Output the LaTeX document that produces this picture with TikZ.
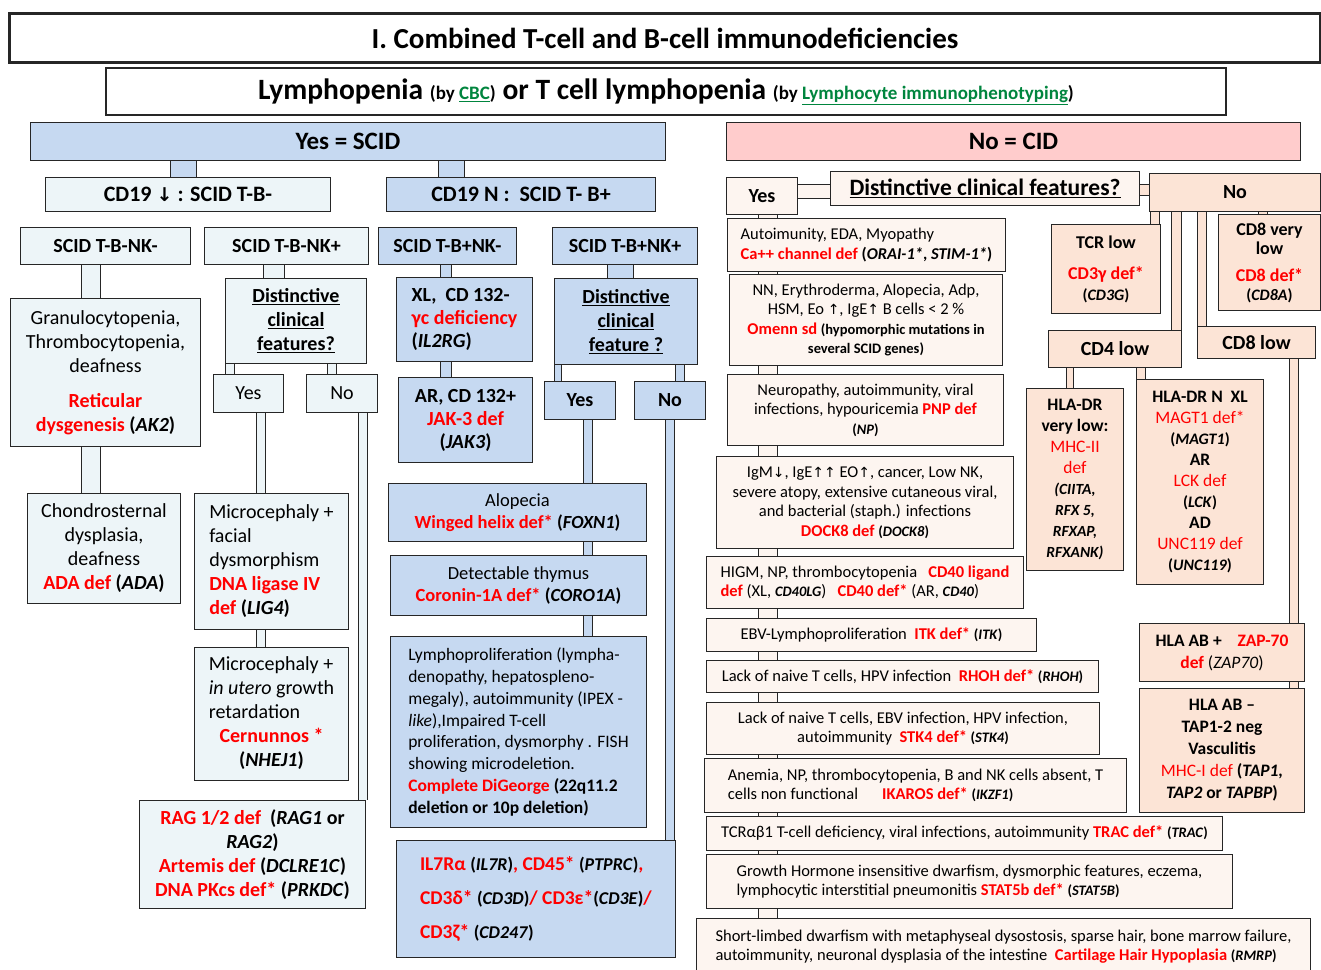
\documentclass[tikz,border=0pt]{standalone}
\usepackage{fontspec}
\setmainfont{Carlito}
\newfontfamily\dv{DejaVu Sans}
\definecolor{mblue}{HTML}{C6D9F1}
\definecolor{lblue}{HTML}{EDF5F8}
\definecolor{pinkc}{HTML}{FFCCCC}
\definecolor{lpeach}{HTML}{FDF5F0}
\definecolor{peach}{HTML}{FCE4D6}
\definecolor{lgreen}{HTML}{00853E}
\definecolor{bord}{HTML}{262626}
\newcommand\R[1]{\textcolor{red}{\textbf{#1}}}
\newcommand\Rm[1]{\textcolor{red}{\mdseries #1}}
\newcommand\fz[2]{\fontsize{#1}{#2}\selectfont}
\newcommand\gs[1]{{\fz{14.5}{16}\bfseries(\textit{#1})}}
\newcommand\gi[1]{{\fz{15.5}{21}\itshape #1}}
\newcommand\lk[1]{\textcolor{lgreen}{\underline{#1}}}
\newcommand\mc[1]{\multicolumn{1}{@{}c@{}}{#1}}
\newcommand\bx[7]{\node[box,#6,anchor=north west,minimum width={#4-#2},minimum height={#5-#3}] (#1) at (#2,#3) {#7};}
\pgfdeclarelayer{bg}
\pgfsetlayers{bg,main}
\begin{document}
\begin{tikzpicture}[x=1pt,y=-1pt,
 box/.style={draw=bord,line width=1pt,inner sep=1pt,align=center,font=\fz{20}{24}},
 pp/.style={draw=bord,line width=1pt,double=#1}]
\useasboundingbox (0,0) rectangle (1321,969);
% headers
\bx{title}{8}{12}{1319}{61}{line width=3pt,font=\fz{29}{32}\bfseries}{I. Combined T-cell and B-cell immunodeficiencies}
\bx{lp}{105}{67}{1225}{114}{line width=2pt,font=\fz{29.5}{32}\bfseries}{Lymphopenia {\fz{19}{20}(by \lk{CBC})} or T cell lymphopenia {\fz{19}{20}(by \lk{Lymphocyte immunophenotyping})}}
\bx{yscid}{30}{122}{665}{160}{fill=mblue,font=\fz{25}{28}\bfseries}{Yes = SCID}
\bx{ncid}{726}{122}{1300}{160}{fill=pinkc,font=\fz{25}{28}\bfseries}{No = CID}
\bx{cdd}{45}{177}{330}{211}{fill=lblue,font=\fz{22}{26}\bfseries}{CD19 {\dv\fz{19}{21}↓} : SCID T-B-}
\bx{cdn}{386}{177}{655}{211}{fill=mblue,font=\fz{22}{26}\bfseries}{CD19 N :\ \ SCID T- B+}
% left subtree
\bx{nkm}{20}{227}{190}{264}{fill=lblue,font=\fz{20}{24}\bfseries}{SCID T-B-NK-}
\bx{nkp}{204}{227}{368}{264}{fill=lblue,font=\fz{20}{24}\bfseries}{SCID T-B-NK+}
\bx{gran}{10}{298}{200}{446}{fill=lblue}{Granulocytopenia,\\Thrombocytopenia,\\deafness\\[11pt]\R{Reticular}\\\R{dysgenesis} \textbf{(\textit{AK2})}}
\bx{chon}{27}{493}{180}{603}{fill=lblue}{Chondrosternal\\dysplasia,\\deafness\\\R{ADA def} \textbf{(\textit{ADA})}}
\bx{dcfa}{225}{278}{366}{363}{fill=lblue,font=\fz{20}{24}\bfseries}{\underline{Distinctive}\\\underline{clinical}\\\underline{features?}}
\bx{yesa}{213}{374}{283}{412}{fill=lblue}{Yes}
\bx{noa}{306}{374}{377}{412}{fill=lblue}{No}
\bx{mica}{194}{493}{348}{629}{fill=lblue,align=left}{Microcephaly +\\facial\\dysmorphism\\\R{DNA ligase IV}\\\R{def} \textbf{(\textit{LIG4})}}
\bx{micb}{194}{647}{348}{780}{fill=lblue}{\begin{tabular}{@{}l@{}}Microcephaly +\\\textit{in utero} growth\\retardation\\\mc{\R{Cernunnos *}}\\\mc{\textbf{(\textit{NHEJ1})}}\end{tabular}}
\bx{rag}{139}{800}{365}{908}{fill=lblue}{\R{RAG 1/2 def}\ \ \textbf{(\textit{RAG1} or}\\\textbf{\textit{RAG2})}\\\R{Artemis def} \textbf{(\textit{DCLRE1C})}\\\R{DNA PKcs def*} \textbf{(\textit{PRKDC})}}
% middle subtree
\bx{nkm2}{378}{227}{516}{264}{fill=mblue,font=\fz{20}{24}\bfseries}{SCID T-B+NK-}
\bx{nkp2}{552}{227}{697}{264}{fill=mblue,font=\fz{20}{24}\bfseries}{SCID T-B+NK+}
\bx{xl}{396}{277}{532}{361}{fill=mblue,font=\fz{20}{23}\bfseries,align=left}{XL,\ \ CD 132-\\\R{γc deficiency}\\(\textit{IL2RG})}
\bx{ar}{398}{377}{532}{462}{fill=mblue,font=\fz{20}{23}\bfseries}{AR, CD 132+\\\R{JAK-3 def}\\(\textit{JAK3})}
\bx{dcfb}{554}{278}{697}{364}{fill=mblue,font=\fz{20}{24}\bfseries}{\underline{Distinctive}\\\underline{clinical}\\\underline{feature ?}}
\bx{yesb}{544}{381}{615}{419}{fill=mblue,font=\fz{20}{24}\bfseries}{Yes}
\bx{nob}{634}{381}{705}{419}{fill=mblue,font=\fz{20}{24}\bfseries}{No}
\bx{alo}{388}{483}{646}{541}{fill=mblue,font=\fz{18.5}{22}}{Alopecia\\\R{Winged helix def*} \textbf{(\textit{FOXN1})}}
\bx{det}{390}{555}{646}{615}{fill=mblue,font=\fz{18.5}{22}}{Detectable thymus\\\R{Coronin-1A def*} \textbf{(\textit{CORO1A})}}
\bx{lymp}{390}{636}{646}{827}{fill=mblue,font=\fz{17.5}{21.8},align=left}{Lymphoproliferation (lympha-\\denopathy, hepatospleno-\\megaly), autoimmunity (IPEX -\\\textit{like}),Impaired T-cell\\proliferation, dysmorphy . FISH\\showing microdeletion.\\\R{Complete DiGeorge} \textbf{(22q11.2}\\\textbf{deletion or 10p deletion)}}
\bx{il7}{396}{840}{675}{957}{fill=mblue,font=\fz{19.5}{34}\bfseries,align=left}{\R{IL7Rα} {\fz{18}{20}(\textit{IL7R})}\R{, CD45*} {\fz{18}{20}(\textit{PTPRC})}\R{,}\\\R{CD3δ*} {\fz{18}{20}(\textit{CD3D})}\R{/ CD3ε*}{\fz{18}{20}(\textit{CD3E})}\R{/}\\\R{CD3ζ*} {\fz{18}{20}(\textit{CD247})}}
% right: yes column
\bx{ya}{726}{177}{797}{214}{fill=lpeach,font=\fz{20}{24}\bfseries}{Yes}
\bx{dcfc}{830}{171}{1139}{205}{fill=lpeach,font=\fz{23.5}{26}\bfseries}{\underline{Distinctive clinical features?}}
\bx{nc}{1149}{173}{1320}{211}{fill=peach,font=\fz{20}{24}\bfseries}{No}
\bx{c1}{727}{218}{1005}{271}{fill=lpeach,font=\fz{16.5}{19.5},align=left}{Autoimunity, EDA, Myopathy\\\R{Ca++ channel def} \textbf{(\textit{ORAI-1*}, \textit{STIM-1*})}}
\bx{c2}{729}{274}{1002}{365}{fill=lpeach,font=\fz{16.5}{19.5}}{NN, Erythroderma, Alopecia, Adp,\\HSM, Eo {\dv\fz{14}{16}↑}, IgE{\dv\fz{14}{16}↑} B cells < 2 \%\\\R{Omenn sd} {\fz{14.5}{17}\bfseries(hypomorphic mutations in}\\{\fz{14.5}{17}\bfseries several SCID genes)}}
\bx{c3}{727}{374}{1003}{445}{fill=lpeach,font=\fz{16.5}{19.5}}{Neuropathy, autoimmunity, viral\\infections, hypouricemia \R{PNP def}\\\gs{NP}}
\bx{c4}{716}{456}{1013}{548}{fill=lpeach,font=\fz{16.5}{19.5}}{IgM{\dv\fz{14}{16}↓}, IgE{\dv\fz{14}{16}↑↑} EO{\dv\fz{14}{16}↑}, cancer, Low NK,\\severe atopy, extensive cutaneous viral,\\and bacterial (staph.) infections\\\R{DOCK8 def} \gs{DOCK8}}
\bx{c5}{706}{556}{1023}{608}{fill=lpeach,font=\fz{16.5}{19.5},align=left}{HIGM, NP, thrombocytopenia\ \ \ \R{CD40 ligand}\\\R{def} (XL, {\fz{14.5}{16}\bfseries\itshape CD40LG})\ \ \ \R{CD40 def*} (AR, {\fz{14.5}{16}\bfseries\itshape CD40})}
\bx{c6}{706}{618}{1036}{651}{fill=lpeach,font=\fz{16.5}{19.5}}{EBV-Lymphoproliferation\ \ \R{ITK def*} \gs{ITK}}
\bx{c7}{706}{660}{1098}{692}{fill=lpeach,font=\fz{16.5}{19.5}}{Lack of naive T cells, HPV infection\ \ \R{RHOH def*} \gs{RHOH}}
\bx{c8}{706}{702}{1099}{754}{fill=lpeach,font=\fz{16.5}{19.5}}{Lack of naive T cells, EBV infection, HPV infection,\\autoimmunity\ \ \R{STK4 def*} \gs{STK4}}
\bx{c9}{704}{758}{1126}{812}{fill=lpeach,font=\fz{16.5}{19.5},align=left}{Anemia, NP, thrombocytopenia, B and NK cells absent, T\\cells non functional\hspace{24pt}\R{IKAROS def*} \gs{IKZF1}}
\bx{c10}{706}{816}{1222}{850}{fill=lpeach,font=\fz{16.5}{19.5}}{TCRαβ1 T-cell deficiency, viral infections, autoimmunity \R{TRAC def*} \gs{TRAC}}
\bx{c11}{706}{854}{1232}{908}{fill=lpeach,font=\fz{16.5}{19.5},align=left}{Growth Hormone insensitive dwarfism, dysmorphic features, eczema,\\lymphocytic interstitial pneumonitis \R{STAT5b def*} \gs{STAT5B}}
\bx{c12}{696}{918}{1310}{974}{fill=lpeach,font=\fz{16.5}{19.5},align=left}{Short-limbed dwarfism with metaphyseal dysostosis, sparse hair, bone marrow failure,\\autoimmunity, neuronal dysplasia of the intestine\ \ \R{Cartilage Hair Hypoplasia} \gs{RMRP}}
% right: no column
\bx{tcr}{1051}{224}{1160}{313}{fill=peach,font=\fz{18}{21}\bfseries}{TCR low\\[10pt]\R{CD3γ def*}\\{\fz{16}{19}(\textit{CD3G})}}
\bx{c8vl}{1218}{214}{1320}{310}{fill=peach,font=\fz{18}{19}\bfseries}{CD8 very\\low\\[8pt]\R{CD8 def*}\\{\fz{16}{19}(\textit{CD8A})}}
\bx{cd4}{1048}{330}{1181}{367}{fill=peach,font=\fz{20}{24}\bfseries}{CD4 low}
\bx{cd8l}{1197}{326}{1315}{358}{fill=peach,font=\fz{20}{24}\bfseries}{CD8 low}
\bx{hladr}{1026}{388}{1123}{570}{fill=peach,font=\fz{17.5}{21}\bfseries}{HLA-DR\\very low:\\\Rm{MHC-II}\\\Rm{def}\\\gi{(CIITA,}\\\gi{RFX 5,}\\\gi{RFXAP,}\\\gi{RFXANK)}}
\bx{hlan}{1136}{379}{1263}{584}{fill=peach,font=\fz{17.5}{21}\bfseries}{HLA-DR N\ \ XL\\\Rm{MAGT1 def*}\\{\fz{16}{21}(\textit{MAGT1})}\\AR\\\Rm{LCK def}\\{\fz{16}{21}(\textit{LCK})}\\AD\\\Rm{UNC119 def}\\{\fz{16}{21}(\textit{UNC119})}}
\bx{zap}{1139}{623}{1304}{681}{fill=peach,font=\fz{17.5}{22}\bfseries}{HLA AB +\ \ \ \ \R{ZAP-70}\\\R{def} {\mdseries(\textit{ZAP70})}}
\bx{tap}{1139}{688}{1304}{812}{fill=peach,font=\fz{17.5}{22}\bfseries}{HLA AB –\\TAP1-2 neg\\Vasculitis\\\Rm{MHC-I def} (\textit{TAP1,}\\\textit{TAP2} or \textit{TAPBP})}
% connectors
\begin{pgfonlayer}{bg}
\fill[white] (0,0) rectangle (1321,969);
\draw[pp=mblue,double distance=25pt] (yscid.south -| 183.5,0) -- (cdd.north -| 183.5,0);
\draw[pp=mblue,double distance=25pt] (yscid.south -| 451.5,0) -- (cdn.north -| 451.5,0);
\draw[pp=lblue,double distance=18pt] (nkm.south -| 91,0) -- (gran.north -| 91,0);
\draw[pp=lblue,double distance=18pt] (gran.south -| 91,0) -- (chon.north -| 91,0);
\draw[pp=lblue,double distance=20pt] (nkp.south -| 274,0) -- (dcfa.north -| 274,0);
\draw[pp=lblue,double distance=8pt] (dcfa.south -| 230,0) -- (yesa.north -| 230,0);
\draw[pp=lblue,double distance=8pt] (dcfa.south -| 332,0) -- (noa.north -| 332,0);
\draw[pp=lblue,double distance=8pt] (yesa.south -| 261,0) -- (mica.north -| 261,0);
\draw[pp=lblue,double distance=8pt] (mica.south -| 261,0) -- (micb.north -| 261,0);
\draw[pp=lblue,double distance=8pt] (noa.south -| 363,0) -- (rag.north -| 363,0);
\draw[pp=mblue,double distance=10pt] (nkm2.south -| 446,0) -- (xl.north -| 446,0);
\draw[pp=mblue,double distance=10pt] (xl.south -| 446,0) -- (ar.north -| 446,0);
\draw[pp=mblue,double distance=25pt] (nkp2.south -| 620,0) -- (dcfb.north -| 620,0);
\draw[pp=mblue,double distance=6pt] (dcfb.south -| 558,0) -- (yesb.north -| 558,0);
\draw[pp=mblue,double distance=8pt] (dcfb.south -| 680,0) -- (nob.north -| 680,0);
\draw[pp=mblue,double distance=8pt] (yesb.south -| 588,0) -- (alo.north -| 588,0);
\draw[pp=mblue,double distance=8pt] (alo.south -| 588,0) -- (det.north -| 588,0);
\draw[pp=mblue,double distance=8pt] (det.south -| 588,0) -- (lymp.north -| 588,0);
\draw[pp=mblue,double distance=8pt] (nob.south -| 670,0) -- (il7.north -| 670,0);
\draw[pp=lpeach,double distance=18pt] (ya.south -| 768,0) -- (c12.north -| 768,0);
\draw[pp=lpeach,double distance=13pt] (ya.east |- 0,191) -- (dcfc.west |- 0,191);
\draw[pp=peach,double distance=10pt] (dcfc.east |- 0,190) -- (nc.west |- 0,190);
\draw[pp=peach,double distance=8pt] (nc.south -| 1155,0) -- (tcr.north -| 1155,0);
\draw[pp=peach,double distance=9pt] (nc.south -| 1176,0) -- (cd4.north -| 1176,0);
\draw[pp=peach,double distance=8pt] (nc.south -| 1202,0) -- (cd8l.north -| 1202,0);
\draw[pp=peach,double distance=8pt] (nc.south -| 1263,0) -- (c8vl.north -| 1263,0);
\draw[pp=peach,double distance=6pt] (cd4.south -| 1070,0) -- (hladr.north -| 1070,0);
\draw[pp=peach,double distance=8pt] (cd4.south -| 1141,0) -- (hlan.north -| 1141,0);
\draw[pp=peach,double distance=8pt] (cd8l.south -| 1294,0) -- (zap.north -| 1294,0);
\draw[pp=peach,double distance=8pt] (zap.south -| 1294,0) -- (tap.north -| 1294,0);
\end{pgfonlayer}
\end{tikzpicture}
\end{document}
